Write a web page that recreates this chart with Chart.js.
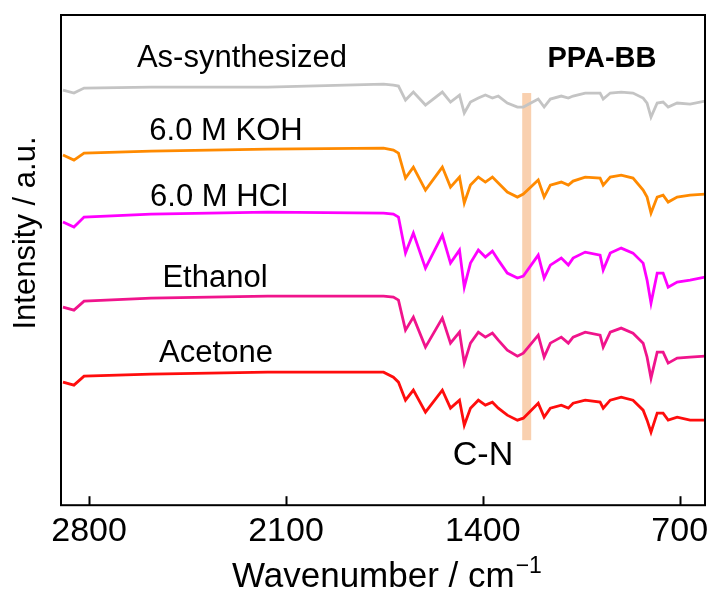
<!DOCTYPE html>
<html>
<head>
<meta charset="utf-8">
<script src="https://cdn.jsdelivr.net/npm/chart.js@4.4.1/dist/chart.umd.min.js"></script>
<style>
  html, body { margin: 0; padding: 0; background: #fff; }
  #wrap { width: 710px; height: 589px; }
</style>
</head>
<body>
<div id="wrap"><canvas id="ftir" width="710" height="589"></canvas></div>
<script>
// wavenumber grid (cm-1), shared by all spectra
const wavenumbers = [2893, 2854, 2818, 2580, 2165, 1753, 1718, 1700, 1675, 1647, 1604, 1544, 1515, 1483, 1466, 1444,
  1416, 1391, 1366, 1345, 1313, 1277, 1256, 1203, 1182, 1160, 1121, 1096, 1079, 1036, 983, 972, 947, 908, 866,
  830, 816, 802, 780, 759, 741, 709, 663, 610];

// offset intensities (a.u.)
const asSynthesized = [415, 412, 417, 418, 418, 421, 420, 419, 405, 413, 400, 413, 403, 410, 392, 403,
  407, 410, 407, 409, 402, 398, 398, 406, 398, 406, 409, 407, 409, 412, 412, 406, 412, 413, 412,
  407, 402, 388, 402, 403, 398, 402, 401, 404];
const koh = [350, 345, 352, 354, 356, 357, 355, 352, 327, 338, 315, 338, 318, 328, 302, 320,
  328, 323, 328, 322, 313, 308, 311, 325, 308, 320, 323, 320, 324, 328, 327, 320, 328, 330, 327,
  315, 308, 292, 308, 310, 303, 308, 310, 311];
const hcl = [283, 278, 288, 291, 293, 292, 291, 288, 252, 272, 237, 270, 242, 255, 218, 242,
  255, 248, 254, 245, 232, 227, 229, 250, 227, 240, 247, 240, 247, 253, 250, 235, 252, 257, 252,
  242, 225, 202, 232, 232, 218, 223, 225, 228];
const ethanol = [198, 195, 204, 207, 209, 209, 208, 205, 175, 188, 158, 187, 162, 173, 142, 162,
  173, 168, 172, 165, 155, 149, 152, 170, 148, 162, 168, 162, 168, 173, 170, 158, 173, 177, 172,
  162, 148, 127, 153, 153, 142, 147, 148, 149];
const acetone = [123, 120, 129, 131, 133, 133, 128, 123, 105, 115, 93, 115, 97, 105, 80, 97,
  105, 100, 103, 97, 90, 85, 87, 102, 88, 97, 100, 97, 102, 105, 103, 97, 105, 108, 105,
  95, 85, 73, 92, 92, 85, 88, 85, 85];

const xTicks = [2800, 2100, 1400, 700];
const cnBand = [1228, 1260];       // wavenumber range of the C-N marker
const cnBandY = [65, 412];         // vertical extent, same units as intensities

const series = [
  { label: 'As-synthesized', data: asSynthesized, color: '#c4c4c4' },
  { label: '6.0 M KOH', data: koh, color: '#ff8a00' },
  { label: '6.0 M HCl', data: hcl, color: '#ff00ff' },
  { label: 'Ethanol', data: ethanol, color: '#f0148c' },
  { label: 'Acetone', data: acetone, color: '#ff0d0d' }
];

const FONT = '"Liberation Sans", Arial, sans-serif';

// band behind the spectra + frame, inward ticks and text on top
const decor = {
  id: 'decor',
  beforeDatasetsDraw(chart) {
    const { ctx, scales: { x, y } } = chart;
    const x0 = x.getPixelForValue(cnBand[1]);
    const x1 = x.getPixelForValue(cnBand[0]);
    const y0 = y.getPixelForValue(cnBandY[1]);
    const y1 = y.getPixelForValue(cnBandY[0]);
    ctx.save();
    ctx.fillStyle = 'rgba(244, 170, 110, 0.55)';
    ctx.fillRect(x0, y0, x1 - x0, y1 - y0);
    ctx.restore();
  },
  afterDraw(chart) {
    const { ctx, chartArea: a, scales: { x } } = chart;
    ctx.save();
    ctx.strokeStyle = '#000';
    ctx.lineWidth = 2;
    ctx.strokeRect(a.left, a.top, a.right - a.left, a.bottom - a.top);
    // inward ticks
    xTicks.forEach(t => {
      const px = Math.round(x.getPixelForValue(t)) + 0.5;
      ctx.beginPath();
      ctx.moveTo(px, a.bottom);
      ctx.lineTo(px, a.bottom - 9);
      ctx.stroke();
    });

    ctx.fillStyle = '#000';
    ctx.textBaseline = 'alphabetic';
    ctx.textAlign = 'center';
    ctx.font = '31px ' + FONT;
    ctx.fillText('As-synthesized', 242, 67);
    ctx.fillText('6.0 M KOH', 226, 140);
    ctx.fillText('6.0 M HCl', 219, 206);
    ctx.fillText('Ethanol', 215, 287);
    ctx.fillText('Acetone', 216, 362);
    ctx.font = '34px ' + FONT;
    ctx.fillText('C-N', 483, 465);
    ctx.font = 'bold 29px ' + FONT;
    ctx.fillText('PPA-BB', 602, 67);

    // x-axis title with superscript
    ctx.textAlign = 'left';
    ctx.font = '35px ' + FONT;
    const main = 'Wavenumber / cm';
    ctx.fillText(main, 232, 587);
    const w = ctx.measureText(main).width;
    ctx.font = '23px ' + FONT;
    ctx.fillText('\u22121', 232 + w + 1, 573);

    // y-axis title
    ctx.translate(35, 233);
    ctx.rotate(-Math.PI / 2);
    ctx.textAlign = 'center';
    ctx.font = '31px ' + FONT;
    ctx.fillText('Intensity / a.u.', 0, 0);
    ctx.restore();
  }
};

new Chart(document.getElementById('ftir'), {
  type: 'line',
  data: {
    datasets: series.map(s => ({
      label: s.label,
      data: wavenumbers.map((wn, i) => ({ x: wn, y: s.data[i] })),
      borderColor: s.color,
      borderWidth: 2.8,
      pointRadius: 0,
      tension: 0,
      fill: false
    }))
  },
  options: {
    responsive: false,
    animation: false,
    layout: { padding: { left: 61, right: 5, top: 15, bottom: 31 } },
    plugins: { legend: { display: false }, tooltip: { enabled: false } },
    scales: {
      x: {
        type: 'linear',
        reverse: true,
        min: 610,
        max: 2900,
        afterBuildTicks: axis => { axis.ticks = xTicks.map(v => ({ value: v })); },
        afterFit: axis => { axis.paddingLeft = 0; axis.paddingRight = 0; },
        ticks: {
          color: '#000', font: { family: FONT, size: 34 }, padding: 6, maxRotation: 0,
          callback: v => String(v)
        },
        grid: { display: false, drawTicks: false },
        border: { display: false }
      },
      y: {
        min: 0,
        max: 490,
        ticks: { display: false },
        grid: { display: false, drawTicks: false },
        border: { display: false }
      }
    }
  },
  plugins: [decor]
});
</script>
</body>
</html>
